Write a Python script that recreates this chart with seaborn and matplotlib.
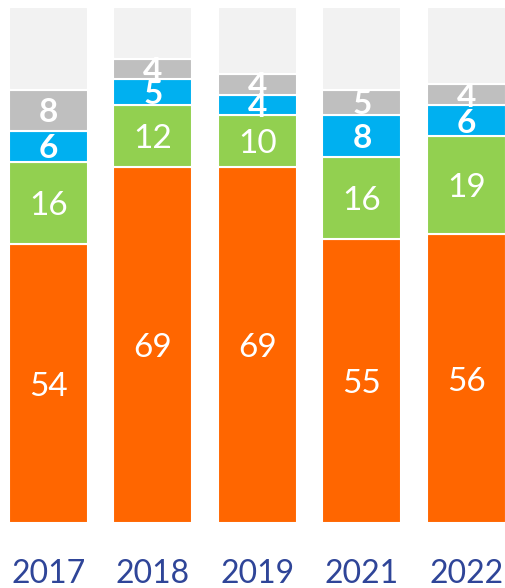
import numpy as np
import matplotlib
matplotlib.use("Agg")
import matplotlib.pyplot as plt
import seaborn as sns

years = ["2017", "2018", "2019", "2021", "2022"]
orange_vals = [54, 69, 69, 55, 56]
green_vals = [16, 12, 10, 16, 19]
blue_vals = [6, 5, 4, 8, 6]
gray_vals = [8, 4, 4, 5, 4]
rest_vals = [100 - (a + b + c + d) for a, b, c, d in zip(orange_vals, green_vals, blue_vals, gray_vals)]

series = [
    (orange_vals, "#FF6600", "normal", True),
    (green_vals, "#92D050", "normal", True),
    (blue_vals, "#00B0F0", "bold", True),
    (gray_vals, "#BFBFBF", "bold", True),
    (rest_vals, "#F2F2F2", "normal", False),
]

sns.set_style("white")
plt.rcParams["font.family"] = ["Lato", "DejaVu Sans"]

fig = plt.figure(figsize=(5.06, 5.88), dpi=100)
ax = fig.add_axes([0, 65 / 588, 1, 516 / 588])

bottom = np.zeros(len(years))
for vals, color, weight, show in series:
    v = np.array(vals, dtype=float)
    sns.barplot(x=years, y=v, bottom=bottom, color=color, width=0.756,
                edgecolor="white", linewidth=1.5, saturation=1, ax=ax, order=years)
    if show:
        for i, (b, h) in enumerate(zip(bottom, v)):
            ax.text(i, b + h / 2, f"{int(h)}", ha="center", va="center_baseline",
                    color="white", fontsize=24, fontweight=weight)
    bottom = bottom + v

ax.set_ylim(0, 100)
ax.set_xlim(-0.464, 4.378)
ax.set_ylabel("")
ax.set_yticks([])
for s in ax.spines.values():
    s.set_visible(False)
ax.tick_params(axis="x", length=0, pad=26, labelsize=23, labelcolor="#2F4598")

fig.savefig("out.png", dpi=100)
